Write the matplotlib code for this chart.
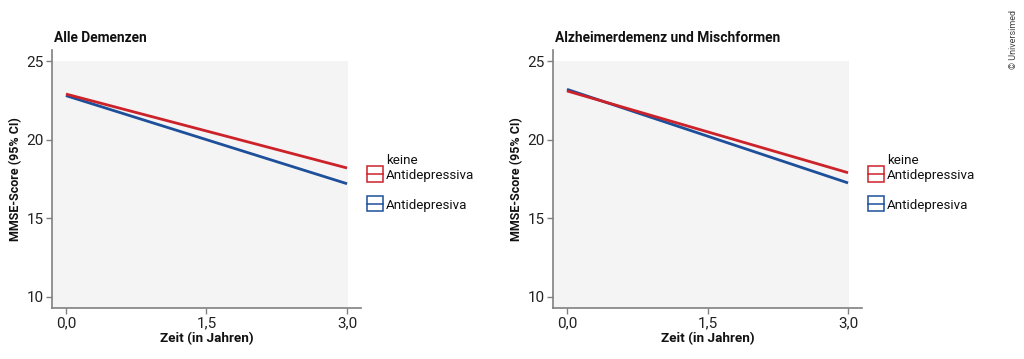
import matplotlib
matplotlib.use("Agg")
import matplotlib.pyplot as plt
from matplotlib.patches import Rectangle
from matplotlib.lines import Line2D

plt.rcParams['font.family'] = ['Roboto', 'DejaVu Sans']

years = [0.0, 3.0]
titles = ["Alle Demenzen", "Alzheimerdemenz und Mischformen"]
keine_ad = [[22.9, 18.2], [23.1, 17.9]]
mit_ad = [[22.8, 17.2], [23.2, 17.25]]
xticks = [0.0, 1.5, 3.0]
xticklabels = ["0,0", "1,5", "3,0"]
yticks = [10, 15, 20, 25]
legend_labels = ["keine\nAntidepressiva", "Antidepresiva"]

RED = "#cc2229"
BLUE = "#1d4f9a"
BG = "#f4f4f4"
SPINE = "#808080"

fig = plt.figure(figsize=(10.24, 3.59), dpi=100)
W, H = 1024, 359
lefts = [52, 553]
for i in range(2):
    l = lefts[i]
    ax = fig.add_axes([l / W, 1 - 308 / H, 309 / W, 258 / H])
    ax.set_xlim(-0.149, 3.149)
    ax.set_ylim(9.30, 25.70)
    ax.set_facecolor("white")
    ax.add_patch(Rectangle((-0.149, 9.30), 3.01 + 0.149, 25 - 9.30,
                           facecolor=BG, edgecolor="none", zorder=0))
    ax.plot(years, keine_ad[i], color=RED, lw=2, solid_capstyle="butt", zorder=3)
    ax.plot(years, mit_ad[i], color=BLUE, lw=2, solid_capstyle="butt", zorder=2)
    for s in ["top", "right"]:
        ax.spines[s].set_visible(False)
    for s in ["left", "bottom"]:
        ax.spines[s].set_color(SPINE)
        ax.spines[s].set_linewidth(1.2)
    ax.set_xticks(xticks)
    ax.set_xticklabels(xticklabels)
    ax.set_yticks(yticks)
    ax.tick_params(axis="both", colors=SPINE, labelcolor="#222222",
                   labelsize=11, length=4, width=1, pad=2)
    ax.set_xlabel("Zeit (in Jahren)", fontsize=9.7, fontweight="bold",
                  color="#111111", labelpad=1)
    ax.set_ylabel("MMSE-Score (95% CI)", fontsize=9.0, fontweight="bold",
                  color="#111111", labelpad=3)
    ax.set_title(titles[i], loc="left", fontsize=9.9, fontweight="bold",
                 color="#111111", x=0.005, pad=6)

    # legend (manual)
    def ax_x(px):
        return (px - l) / 309
    def ax_y(py):
        return (308 - py) / 258
    for (col, y0, y1, ty, lab) in [(RED, 166, 182, 168, legend_labels[0]),
                                   (BLUE, 196, 211, 205, legend_labels[1])]:
        bx0 = l + 315
        ax.add_patch(Rectangle((ax_x(bx0), ax_y(y1)), 16 / 309, (y1 - y0) / 258,
                               transform=ax.transAxes, facecolor="none",
                               edgecolor=col, lw=1.1, clip_on=False))
        ax.add_line(Line2D([ax_x(bx0), ax_x(bx0 + 16)],
                           [ax_y((y0 + y1) / 2)] * 2, transform=ax.transAxes,
                           color=col, lw=1.1, clip_on=False))
        ax.text(ax_x(bx0 + 19), ax_y(ty), lab, transform=ax.transAxes,
                fontsize=9.6, color="#111111", va="center", ha="left",
                linespacing=1.2)

fig.text(1013 / W, 1 - 10 / H, "© Universimed", rotation=90, fontsize=6.5,
         color="#444444", ha="center", va="top")

fig.savefig("out.png", dpi=100)
